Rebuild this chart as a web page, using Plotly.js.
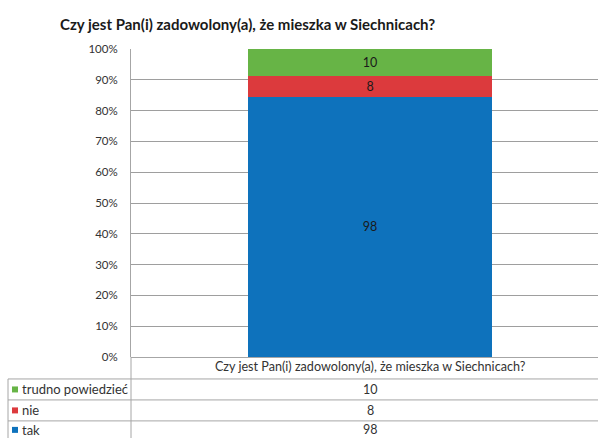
<!DOCTYPE html>
<html>
<head>
<meta charset="utf-8">
<script src="https://cdn.plot.ly/plotly-3.0.1.min.js"></script>
<style>html,body{margin:0;padding:0;background:#fff;}#chart{width:598px;height:438px;}</style>
</head>
<body>
<div id="chart"></div>
<script>
const categories = ['Czy jest Pan(i) zadowolony(a), że mieszka w Siechnicach?'];
const seriesNames = ['tak', 'nie', 'trudno powiedzieć'];
const takValues = [98];
const nieValues = [8];
const trudnoValues = [10];
const yTickValues = [0,10,20,30,40,50,60,70,80,90,100];
const yTickLabels = ['0%','10%','20%','30%','40%','50%','60%','70%','80%','90%','100%'];
const titleText = 'Czy jest Pan(i) zadowolony(a), że mieszka w Siechnicach?';

const colors = ['#0e72bc', '#dc3a3d', '#67b446'];
const seriesValues = [takValues, nieValues, trudnoValues];

const traces = seriesValues.map((vals, i) => ({
  type: 'bar',
  name: seriesNames[i],
  x: categories,
  y: vals,
  text: vals.map(String),
  textposition: 'inside',
  insidetextanchor: 'middle',
  textfont: {family: 'Lato, sans-serif', size: 12.5, color: '#1a1a1a'},
  marker: {color: colors[i], line: {width: 0}},
  width: 1,
  hoverinfo: 'none'
}));

// geometry helpers (pixel -> paper), plot area 131..598 x 48.5..357
const L = 131, R = 598, T = 48.5, B = 357;
const px = x => (x - L) / (R - L);
const py = y => (B - y) / (B - T);

const shapes = [];
const annotations = [];
const lineStyle = {color: '#a6a6a6', width: 1};
[379, 400, 421].forEach(y => shapes.push({type:'line', xref:'paper', yref:'paper', x0:px(131), x1:px(598), y0:py(y), y1:py(y), line:lineStyle}));
[379, 400, 421].forEach(y => shapes.push({type:'line', xref:'paper', yref:'paper', x0:px(8), x1:px(131), y0:py(y), y1:py(y), line:lineStyle}));
shapes.push({type:'line', xref:'paper', yref:'paper', x0:px(8), x1:px(8), y0:py(379), y1:py(440), line:lineStyle});
shapes.push({type:'line', xref:'paper', yref:'paper', x0:px(131), x1:px(131), y0:py(357), y1:py(440), line:lineStyle});

const rowCenters = [389.5, 410.5, 430];
const order = [2, 1, 0];
order.forEach((si, r) => {
  const yc = rowCenters[r];
  shapes.push({type:'rect', xref:'paper', yref:'paper', x0:px(12), x1:px(18), y0:py(yc+3), y1:py(yc-3), fillcolor: colors[si], line:{width:0}});
  annotations.push({xref:'paper', yref:'paper', x:px(20), y:py(yc), xanchor:'left', yanchor:'middle', showarrow:false, text: seriesNames[si], font:{family:'Lato, sans-serif', size:13, color:'#333'}});
  annotations.push({xref:'x', yref:'paper', x:categories[0], y:py(yc), xanchor:'center', yanchor:'middle', showarrow:false, text: String(seriesValues[si][0]), font:{family:'Lato, sans-serif', size:12.5, color:'#333'}});
});

const layout = {
  width: 598, height: 438,
  margin: {l: L, r: 0, t: T, b: 438 - B, pad: 0},
  paper_bgcolor: '#fff', plot_bgcolor: '#fff',
  barmode: 'stack',
  barnorm: 'percent',
  showlegend: false,
  title: {text: '<b>' + titleText + '</b>', x: 60/598, xanchor: 'left', y: 1 - 25/438, yanchor: 'middle', font: {family: 'Lato, sans-serif', size: 15, color: '#1a1a1a'}},
  xaxis: {type: 'category', range: [-0.98, 0.934], showgrid: false, showline: false, zeroline: false, ticks: '', tickfont: {family: 'Lato, sans-serif', size: 12.6, color: '#333'}, fixedrange: true},
  yaxis: {range: [0, 100], tickvals: yTickValues, ticktext: yTickLabels, showgrid: true, gridcolor: '#9e9e9e', gridwidth: 1, showline: true, linecolor: '#a6a6a6', linewidth: 1, zeroline: true, zerolinecolor: '#a6a6a6', ticks: '', ticklabelstandoff: 10, tickfont: {family: 'Lato, sans-serif', size: 11.5, color: '#333'}, fixedrange: true},
  shapes: shapes,
  annotations: annotations
};

Plotly.newPlot('chart', traces, layout, {displayModeBar: false, staticPlot: true});
</script>
</body>
</html>
